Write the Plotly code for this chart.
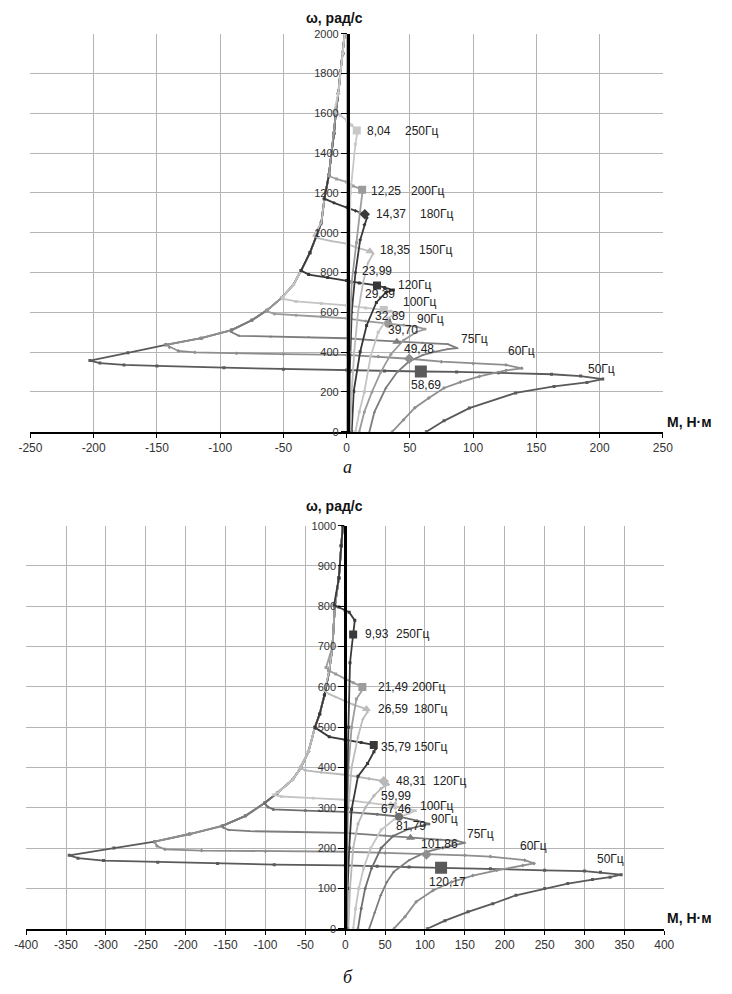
import plotly.graph_objects as go

# ---------- chart (а): torque M (Н·м) vs angular speed ω (рад/с) ----------
FREQS = ["50Гц", "60Гц", "75Гц", "90Гц", "100Гц", "120Гц", "150Гц", "180Гц", "200Гц", "250Гц"]

A50_M = [63, 77, 97, 133.6, 164, 190, 202.5, 185, 162, 120, 87, 58.69, 30, 0, -50, -97, -150, -176, -195, -203]
A50_W = [0, 55, 119, 195, 228, 248, 265, 280, 289, 297, 301, 303, 306, 310, 314, 322, 331, 336, 345, 358]
A60_M = [36, 45, 54, 65, 77, 90, 105, 126, 138.5, 126, 100, 75, 49.48, 25, 0, -50, -87, -120, -133, -140]
A60_W = [0, 60, 121, 170, 220, 250, 278, 308, 319, 336, 343, 352, 367, 378, 386, 390, 394, 399, 406, 425]
A75_M = [18, 22, 31, 40, 49, 60, 69.5, 80, 87.4, 80, 60, 39.70, 20, 0, -30, -60, -85, -91]
A75_W = [0, 100, 220, 300, 352, 385, 402, 415, 420, 440, 447, 452, 460, 470, 475, 478, 482, 500]
A90_M = [10, 14, 20, 27, 35, 45, 55, 62, 55, 45, 32.89, 15, 0, -20, -40, -57, -63]
A90_W = [0, 100, 200, 300, 390, 460, 500, 516, 528, 536, 543, 556, 570, 578, 585, 592, 605]
A100_M = [7, 10, 14, 19, 25, 32, 40, 35, 29.39, 15, 0, -20, -40, -50]
A100_W = [0, 100, 200, 380, 500, 570, 597, 605, 612, 622, 635, 645, 655, 668]
A120_M = [4, 5.6, 10.7, 15.8, 23.5, 31, 37, 30, 23.99, 10, 0, -15, -30, -36]
A120_W = [0, 203, 402, 534, 650, 700, 712, 725, 735, 748, 760, 775, 790, 810]
A150_M = [3, 4, 6, 9, 13, 17, 21, 18.35, 8, 0, -12, -22, -26]
A150_W = [0, 200, 400, 600, 750, 850, 895, 907, 925, 945, 958, 972, 985]
A180_M = [2, 2.5, 4, 7, 10.7, 14, 16, 14.37, 7, 0, -10, -17.6]
A180_W = [0, 300, 600, 800, 964, 1040, 1075, 1093, 1110, 1128, 1150, 1171]
A200_M = [1.5, 2, 4, 8, 10.5, 12.5, 12.25, 5, 0, -8, -14]
A200_W = [0, 400, 750, 950, 1100, 1205, 1216, 1235, 1255, 1270, 1285]
A250_M = [1, 1.5, 3, 6.9, 8.5, 8.04, 4, 0, -5, -10]
A250_W = [0, 600, 1200, 1444, 1505, 1514, 1540, 1565, 1590, 1610]

# common generator-mode return branch (after the negative peak)
ENV_A_W = [358, 397, 437, 470, 511, 560, 610, 675, 740, 810, 900, 980, 1050, 1170, 1290, 1400, 1500, 1610, 1700, 1800, 1900, 2000]
ENV_A_M = [-203, -173, -143, -115, -91, -75, -63, -51, -42, -36, -29, -24, -20, -17.6, -14, -12, -10, -8.5, -6.5, -5, -3, -1.5]

# rated points (value shown next to the marker, rated speed)
RATED_A_M = [58.69, 49.48, 39.70, 32.89, 29.39, 23.99, 18.35, 14.37, 12.25, 8.04]
RATED_A_W = [303, 367, 452, 543, 612, 735, 907, 1093, 1216, 1514]

# ---------- chart (б) ----------
B50_M = [103, 125, 154, 185, 214, 250, 279, 310, 332, 346, 320, 300, 250, 182, 120.17, 80, 40, 0, -89, -160, -235, -303, -335, -346]
B50_W = [0, 20, 42, 62, 83, 100, 112, 122, 128, 134, 140, 143, 145, 149, 151, 153, 155, 157, 159, 162, 165, 169, 175, 182]
B60_M = [61, 75, 89, 110, 133.5, 160, 190, 222.6, 236.7, 225, 182, 150, 101.86, 50, 0, -100, -180, -226, -236]
B60_W = [0, 30, 67, 95, 116, 132, 145, 157, 162, 170, 179, 182, 184, 188, 191, 192, 194, 197, 205]
B75_M = [30, 37, 44.5, 52, 60.7, 80, 101, 120, 133.5, 150, 140, 120, 81.79, 50, 0, -60, -120, -146, -152]
B75_W = [0, 40, 83, 115, 141, 170, 190, 200, 206, 213, 218, 221, 226, 231, 238, 240, 242, 245, 250]
B90_M = [16, 20, 25, 33, 45, 60, 80, 99, 105, 90, 67.46, 40, 0, -50, -90, -97]
B90_W = [0, 50, 100, 150, 200, 230, 248, 257, 260, 268, 278, 284, 290, 293, 296, 302]
B100_M = [10, 13, 17, 23, 32, 45, 62, 80, 88, 75, 59.99, 30, 0, -40, -80, -90]
B100_W = [0, 50, 100, 150, 200, 245, 272, 287, 293, 300, 305, 312, 320, 324, 328, 332]
B120_M = [4, 6, 10, 16, 25, 36, 45, 54, 48.31, 30, 0, -30, -50, -57]
B120_W = [0, 100, 200, 260, 300, 330, 348, 358, 366, 372, 382, 388, 393, 400]
B150_M = [2, 3, 5, 8, 16, 28, 36, 38, 35.79, 20, 0, -20, -37]
B150_W = [0, 100, 200, 296, 378, 410, 439, 447, 456, 462, 468, 476, 498]
B180_M = [1.5, 2, 4, 8, 16, 22, 28, 26.59, 10, 0, -12, -20, -26]
B180_W = [0, 150, 300, 400, 476, 520, 538, 545, 556, 565, 575, 582, 590]
B200_M = [1.2, 2, 4, 8, 14, 22, 21.49, 10, 0, -12, -20, -24]
B200_W = [0, 200, 400, 500, 570, 594, 600, 610, 620, 632, 640, 648]
B250_M = [1, 2, 4, 6, 9.93, 12, 5, 0, -8, -14]
B250_W = [0, 300, 500, 660, 730, 765, 785, 790, 798, 803]

ENV_B_W = [182, 200, 216, 235, 255, 280, 312, 337, 370, 398, 440, 500, 533, 580, 640, 700, 800, 870, 950, 1000]
ENV_B_M = [-346, -290, -239, -195, -154, -125, -101, -85, -66, -56, -46, -38, -32, -26, -20, -16, -13, -8, -5, -3]

RATED_B_M = [120.17, 101.86, 81.79, 67.46, 59.99, 48.31, 35.79, 26.59, 21.49, 9.93]
RATED_B_W = [151, 184, 226, 278, 305, 366, 456, 545, 600, 730]

# axis ticks
XT_A = [-250, -200, -150, -100, -50, 0, 50, 100, 150, 200, 250]
YT_A = list(range(0, 2001, 200))
XT_B = [-400, -350, -300, -250, -200, -150, -100, -50, 0, 50, 100, 150, 200, 250, 300, 350, 400]
YT_B = list(range(0, 1001, 100))

# ---------- styling ----------
COLORS_A = ["#5a5a5a", "#8e8e8e", "#7d7d7d", "#9a9a9a", "#c4c4c4", "#383838", "#bcbcbc", "#3a3a3a", "#9c9c9c", "#c8c8c8"]
SYMB_A = ["square", "diamond", "triangle-up", "circle", "square", "square", "triangle-up", "diamond", "square", "square"]
COLORS_B = ["#5a5a5a", "#8e8e8e", "#7d7d7d", "#6e6e6e", "#c4c4c4", "#b8b8b8", "#383838", "#bcbcbc", "#9c9c9c", "#3a3a3a"]
SYMB_B = ["square", "diamond", "triangle-up", "circle", "x", "diamond", "square", "triangle-up", "square", "square"]

CURVES_A = [(A50_M, A50_W), (A60_M, A60_W), (A75_M, A75_W), (A90_M, A90_W), (A100_M, A100_W),
            (A120_M, A120_W), (A150_M, A150_W), (A180_M, A180_W), (A200_M, A200_W), (A250_M, A250_W)]
CURVES_B = [(B50_M, B50_W), (B60_M, B60_W), (B75_M, B75_W), (B90_M, B90_W), (B100_M, B100_W),
            (B120_M, B120_W), (B150_M, B150_W), (B180_M, B180_W), (B200_M, B200_W), (B250_M, B250_W)]

W, H = 732, 994
FONT = "Liberation Sans"


def with_tail(ms, ws, env_m, env_w):
    last = ws[-1]
    m2 = list(ms) + [m for m, w in zip(env_m, env_w) if w > last]
    w2 = list(ws) + [w for w in env_w if w > last]
    return m2, w2


fig = go.Figure()


def add_chart(curves, env_m, env_w, rated_m, rated_w, colors, symbols, xa, ya):
    for i, (ms, ws) in enumerate(curves):
        m2, w2 = with_tail(ms, ws, env_m, env_w)
        fig.add_trace(go.Scatter(
            x=m2, y=w2, mode="lines+markers", xaxis=xa, yaxis=ya,
            line=dict(color=colors[i], width=1.8),
            marker=dict(symbol=symbols[i], size=3, color=colors[i]),
            hoverinfo="skip", name=FREQS[i]))
    for i in range(len(rated_m)):
        fig.add_trace(go.Scatter(
            x=[rated_m[i]], y=[rated_w[i]], mode="markers", xaxis=xa, yaxis=ya,
            marker=dict(symbol=symbols[i], size=12 if i == 0 else 8, color=colors[i],
                        line=dict(width=0)),
            hoverinfo="skip", name=FREQS[i]))


add_chart(CURVES_A, ENV_A_M, ENV_A_W, RATED_A_M, RATED_A_W, COLORS_A, SYMB_A, "x", "y")
add_chart(CURVES_B, ENV_B_M, ENV_B_W, RATED_B_M, RATED_B_W, COLORS_B, SYMB_B, "x2", "y2")

# text labels next to the curves: (text, M, ω)
LABELS_A = [("8,04", 14.6, 1509), ("250Гц", 44.5, 1509), ("12,25", 17.6, 1211), ("200Гц", 49, 1211),
            ("14,37", 22, 1092), ("180Гц", 56.7, 1092), ("18,35", 24.8, 913), ("150Гц", 55.5, 913),
            ("23,99", 10.7, 809), ("120Гц", 38.9, 736), ("29,39", 13.3, 691), ("100Гц", 42.7, 650),
            ("32,89", 21, 584), ("90Гц", 54, 567), ("39,70", 31.2, 510), ("75Гц", 88.7, 468),
            ("49,48", 43.7, 418), ("60Гц", 125.8, 405), ("58,69", 49, 233), ("50Гц", 189.5, 316)]
LABELS_B = [("9,93", 22.3, 730), ("250Гц", 60.7, 730), ("21,49", 38.5, 600), ("200Гц", 81, 600),
            ("26,59", 38.5, 545), ("180Гц", 84, 545), ("35,79", 42.5, 451), ("150Гц", 84, 451),
            ("48,31", 60.7, 366), ("120Гц", 107, 366), ("59,99", 42.5, 330), ("100Гц", 91, 304),
            ("67,46", 42.5, 296), ("90Гц", 105, 273), ("81,79", 60.7, 255), ("75Гц", 150, 235),
            ("101,86", 93, 210), ("60Гц", 216.5, 204), ("120,17", 103, 115), ("50Гц", 313.6, 172)]

for labels, xr, yr in ((LABELS_A, "x", "y"), (LABELS_B, "x2", "y2")):
    for t, mx, wy in labels:
        fig.add_annotation(x=mx, y=wy, xref=xr, yref=yr, text=t, showarrow=False,
                           xanchor="left", yanchor="middle",
                           font=dict(family=FONT, size=12, color="#222222"))

# axis titles and captions
TITLES = [("ω, рад/с", 332 / W, 1 - 12 / H, "center"), ("M, Н·м", 673 / W, 1 - 421 / H, "left"),
          ("ω, рад/с", 332 / W, 1 - 506 / H, "center"), ("M, Н·м", 673 / W, 1 - 923 / H, "left")]
for t, px, py, xa in TITLES:
    fig.add_annotation(x=px, y=py, xref="paper", yref="paper", text="<b>%s</b>" % t,
                       showarrow=False, xanchor=xa, yanchor="middle",
                       font=dict(family=FONT, size=14, color="#111111"))
for t, py in (("а", 467), ("б", 983)):
    fig.add_annotation(x=346 / W, y=1 - py / H, xref="paper", yref="paper", text="<i>%s</i>" % t,
                       showarrow=False, xanchor="center", yanchor="middle",
                       font=dict(family="Liberation Serif", size=18, color="#111111"))

GRID = "#b4b4b4"


def xaxis_cfg(dom, ticks, rng, anchor):
    return dict(domain=dom, range=rng, tickvals=ticks, ticktext=[str(v) for v in ticks],
                showgrid=True, gridcolor=GRID, gridwidth=1, zeroline=False,
                showline=True, linecolor="#000000", linewidth=2, anchor=anchor,
                ticks="outside", ticklen=4, tickcolor="#000000",
                tickfont=dict(family=FONT, size=12, color="#333333"))


def yaxis_cfg(dom, ticks, rng, pos):
    return dict(domain=dom, range=rng, tickvals=ticks, ticktext=[str(v) for v in ticks],
                showgrid=True, gridcolor=GRID, gridwidth=1, zeroline=False,
                showline=True, linecolor="#000000", linewidth=2.5,
                anchor="free", position=pos, side="left",
                ticks="outside", ticklen=6, tickcolor="#000000",
                tickfont=dict(family=FONT, size=11, color="#333333"))


fig.update_layout(
    width=W, height=H, margin=dict(l=0, r=0, t=0, b=0),
    paper_bgcolor="white", plot_bgcolor="white", showlegend=False,
    xaxis=xaxis_cfg([19 / W, 671 / W], XT_A, [-250, 250], "y"),
    yaxis=yaxis_cfg([1 - 431 / H, 1 - 28 / H], YT_A, [0, 2000], 346 / W),
    xaxis2=xaxis_cfg([14.6 / W, 672.5 / W], XT_B, [-400, 400], "y2"),
    yaxis2=yaxis_cfg([1 - 934 / H, 1 - 526 / H], YT_B, [0, 1000], 343.3 / W),
)

fig.write_html("out.html")
